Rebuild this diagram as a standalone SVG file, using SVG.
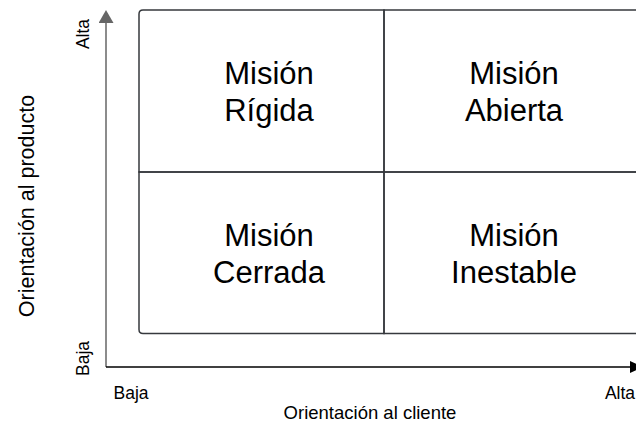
<svg xmlns="http://www.w3.org/2000/svg" width="636" height="423" viewBox="0 0 636 423">
<style>
.q{fill:none;stroke:#36393d;stroke-width:1.5}
.big{font-family:"Liberation Sans",Arial,sans-serif;font-size:31px;fill:#000;text-anchor:middle}
.sm{font-family:"Liberation Sans",Arial,sans-serif;font-size:17.5px;fill:#000;text-anchor:middle}
.lab{font-family:"Liberation Sans",Arial,sans-serif;font-size:18.5px;fill:#000;text-anchor:middle}
</style>
<defs>
<marker id="ag" markerWidth="13" markerHeight="15" refX="11" refY="7.5" orient="auto" markerUnits="userSpaceOnUse" viewBox="0 0 13 15"><path d="M0,0 L13,7.5 L0,15 Z" fill="#666"/></marker>
<marker id="ab" markerWidth="13" markerHeight="12" refX="11" refY="6" orient="auto" markerUnits="userSpaceOnUse" viewBox="0 0 13 12"><path d="M0,0 L13,6 L0,12 Z" fill="#000"/></marker>
</defs>
<rect width="636" height="423" fill="#fff"/>
<g id="connectors">
<line x1="106" y1="367" x2="106" y2="12" stroke="#666" stroke-width="1.5" marker-end="url(#ag)"/>
<line x1="106" y1="367" x2="641" y2="367" stroke="#000" stroke-width="1.5" marker-end="url(#ab)"/>
</g>
<g id="rigida">
<path class="q" d="M384,172 H139 V14 Q139,10 143,10 H384 Z"/>
<text class="big" x="269" y="84">Misión</text>
<text class="big" x="269" y="121">Rígida</text>
</g>
<g id="abierta">
<path class="q" d="M384,10 H640 V172 H384 Z"/>
<text class="big" x="514" y="84">Misión</text>
<text class="big" x="514" y="121">Abierta</text>
</g>
<g id="cerrada">
<path class="q" d="M384,172 H139 V329.5 Q139,333.5 143,333.5 H384 Z"/>
<text class="big" x="269" y="246">Misión</text>
<text class="big" x="269" y="283">Cerrada</text>
</g>
<g id="inestable">
<path class="q" d="M384,172 H640 V333.5 H384 Z"/>
<text class="big" x="514" y="246">Misión</text>
<text class="big" x="514" y="283">Inestable</text>
</g>
<g id="labels">
<text class="sm" transform="translate(89,34) rotate(-90)">Alta</text>
<text class="sm" transform="translate(89,358.5) rotate(-90)">Baja</text>
<text class="sm" x="131" y="398.5">Baja</text>
<text class="sm" x="620" y="398.5">Alta</text>
<text class="lab" x="370" y="419">Orientación al cliente</text>
<text class="lab" style="font-size:21.5px" transform="translate(33.5,206) rotate(-90)">Orientación al producto</text>
</g>
</svg>
